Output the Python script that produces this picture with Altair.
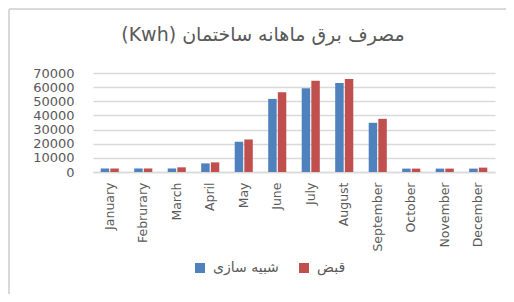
import altair as alt
import pandas as pd

months = ["January", "Februrary", "March", "April", "May", "June", "July",
          "August", "September", "October", "November", "December"]
series_names = ["شبیه سازی", "قبض"]
simulated = [2500, 2500, 2500, 6100, 21400, 51700, 59200, 63000, 34800, 2400, 2400, 2400]
bill = [2500, 2500, 3300, 6800, 23000, 56400, 64600, 65800, 37600, 2400, 2400, 3100]
y_ticks = [0, 10000, 20000, 30000, 40000, 50000, 60000, 70000]
colors = ["#4f81bd", "#c0504d"]
title_text = "\u202Bمصرف برق ماهانه ساختمان (Kwh)\u202C"

rows = []
for m, a, b in zip(months, simulated, bill):
    rows.append({"month": m, "series": series_names[0], "value": a})
    rows.append({"month": m, "series": series_names[1], "value": b})
df = pd.DataFrame(rows)

W, H = 402, 99
PL, PT = 85, 65

bars = alt.Chart(df).mark_bar().encode(
    x=alt.X("month:N", sort=months,
            scale=alt.Scale(paddingInner=0.46, paddingOuter=0.23),
            axis=alt.Axis(title=None, labelAngle=-90, labelFont="DejaVu Sans",
                          labelFontSize=12.5, labelColor="#595959", labelPadding=10,
                          ticks=False, domainColor="#d9d9d9", domainWidth=1.5,
                          grid=False)),
    xOffset=alt.XOffset("series:N", sort=series_names,
                        scale=alt.Scale(paddingInner=0.12)),
    y=alt.Y("value:Q", scale=alt.Scale(domain=[0, 70000], nice=False),
            axis=alt.Axis(title=None, values=y_ticks, format="d",
                          labelFont="DejaVu Sans", labelFontSize=13,
                          labelColor="#595959", labelPadding=19, ticks=False,
                          labelOverlap=False, labelBound=False,
                          domain=False, gridColor="#d9d9d9", gridWidth=1.5)),
    color=alt.Color("series:N", sort=series_names,
                    scale=alt.Scale(domain=series_names, range=colors),
                    legend=alt.Legend(title=None, orient="none", direction="horizontal",
                                      legendX=100, legendY=188,
                                      symbolType="square", symbolSize=100,
                                      symbolStrokeWidth=0,
                                      labelFont="DejaVu Sans", labelFontSize=14,
                                      labelColor="#595959", columnPadding=18,
                                      labelOffset=6)),
)

title_mark = alt.Chart(pd.DataFrame({"t": [title_text]})).mark_text(
    font="DejaVu Sans", fontSize=19, color="#595959", align="center",
    baseline="middle").encode(text="t:N", x=alt.value(170), y=alt.value(-38))

frame_top = alt.Chart(df).mark_rule(color="#d9d9d9", strokeWidth=2).encode(
    x=alt.value(-PL + 1), x2=alt.value(W + 40), y=alt.value(-PT + 1))
frame_left = alt.Chart(df).mark_rule(color="#d9d9d9", strokeWidth=2).encode(
    x=alt.value(-PL + 1), y=alt.value(-PT + 1), y2=alt.value(240))

chart = alt.layer(frame_top, frame_left, title_mark, bars).properties(
    width=W, height=H,
    autosize=alt.AutoSizeParams(type="none"),
    padding={"left": PL, "top": PT, "right": 11, "bottom": 122},
).configure_view(stroke=None)

chart.save("out.html", embed_options={"renderer": "svg", "actions": False})
